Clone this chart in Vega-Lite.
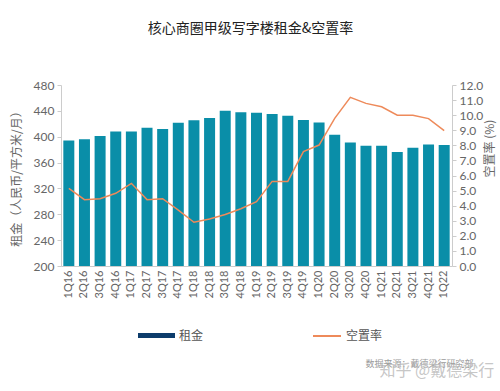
{
  "$schema": "https://vega.github.io/schema/vega-lite/v6.json",
  "width": 391,
  "height": 181,
  "autosize": "none",
  "padding": {"left": 61, "top": 85, "right": 48, "bottom": 125},
  "background": "white",
  "title": {"text": "核心商圈甲级写字楼租金&空置率", "fontSize": 14, "font": "Noto Sans CJK SC", "fontWeight": "normal", "color": "#222222", "offset": 43, "dx": -6},
  "config": {"view": {"stroke": null}, "font": "Noto Sans CJK SC"},
  "data": {"values": [
    {"q": "1Q16", "rent": 394, "vac": 5.15},
    {"q": "2Q16", "rent": 396, "vac": 4.4},
    {"q": "3Q16", "rent": 401, "vac": 4.46},
    {"q": "4Q16", "rent": 408, "vac": 4.82},
    {"q": "1Q17", "rent": 408, "vac": 5.48},
    {"q": "2Q17", "rent": 414, "vac": 4.4},
    {"q": "3Q17", "rent": 412, "vac": 4.46},
    {"q": "4Q17", "rent": 421.5, "vac": 3.71},
    {"q": "1Q18", "rent": 425.5, "vac": 2.9},
    {"q": "2Q18", "rent": 429, "vac": 3.11},
    {"q": "3Q18", "rent": 440, "vac": 3.42},
    {"q": "4Q18", "rent": 438, "vac": 3.8},
    {"q": "1Q19", "rent": 437, "vac": 4.27},
    {"q": "2Q19", "rent": 435, "vac": 5.61},
    {"q": "3Q19", "rent": 432.5, "vac": 5.61},
    {"q": "4Q19", "rent": 426, "vac": 7.58},
    {"q": "1Q20", "rent": 422, "vac": 8.02},
    {"q": "2Q20", "rent": 403, "vac": 9.79},
    {"q": "3Q20", "rent": 391, "vac": 11.18},
    {"q": "4Q20", "rent": 386, "vac": 10.78},
    {"q": "1Q21", "rent": 386, "vac": 10.56},
    {"q": "2Q21", "rent": 376.5, "vac": 10.0},
    {"q": "3Q21", "rent": 383, "vac": 10.0},
    {"q": "4Q21", "rent": 388, "vac": 9.77},
    {"q": "1Q22", "rent": 387, "vac": 8.97}
  ]},
  "layer": [
    {
      "mark": {"type": "bar", "width": 11, "clip": true, "color": "#0a8ea8"},
      "encoding": {
        "x": {"field": "q", "type": "ordinal", "sort": null,
          "scale": {"paddingInner": 0.3, "paddingOuter": 0.15},
          "axis": {"title": "数据来源：戴德梁行研究部", "titleX": 304, "titleY": 97, "titleAlign": "left", "titleBaseline": "middle", "titleFontSize": 9, "titleFontWeight": "normal", "titleColor": "#9a9a9a",
            "labelAngle": 270, "labelFont": "Lato", "labelFontSize": 11, "labelColor": "#666666", "labelPadding": 4, "ticks": false, "domainColor": "#cccccc", "labelOverlap": false}},
        "y": {"field": "rent", "type": "quantitative",
          "scale": {"domain": [200, 480], "zero": false, "nice": false},
          "axis": {"values": [200, 240, 280, 320, 360, 400, 440, 480], "grid": false, "labelFont": "Lato", "labelFontSize": 12, "labelColor": "#666666", "labelPadding": 3, "tickSize": 4, "tickColor": "#cccccc", "domainColor": "#cccccc",
            "title": "租金（人民币/平方米/月）", "titleFontSize": 12, "titleFontWeight": "normal", "titleColor": "#666666", "titlePadding": 10}},
        "y2": {"datum": 200}
      }
    },
    {
      "mark": {"type": "bar", "width": 11, "clip": true},
      "encoding": {
        "x": {"field": "q", "type": "ordinal", "sort": null, "axis": null},
        "y": {"field": "rent", "type": "quantitative", "scale": {"domain": [200, 480], "zero": false, "nice": false}, "axis": null},
        "y2": {"field": "rent"},
        "color": {"datum": "租金", "scale": {"range": ["#0d3c6b"]},
          "legend": {"orient": "none", "legendX": 77, "legendY": 232, "title": null, "symbolType": "M-1,-0.14H1V0.14H-1Z", "symbolSize": 1369, "symbolStrokeWidth": 0, "labelFontSize": 12, "labelColor": "#555555", "labelOffset": 4, "padding": 0}}
      }
    },
    {
      "mark": {"type": "line", "strokeWidth": 1.5},
      "encoding": {
        "x": {"field": "q", "type": "ordinal", "sort": null,
          "axis": {"orient": "bottom", "labels": false, "ticks": false, "domain": false, "title": "知乎 @戴德梁行", "titleX": 318, "titleY": 104, "titleAlign": "left", "titleBaseline": "middle", "titleFontSize": 16, "titleFontWeight": "normal", "titleColor": "#b8b8b8", "titleOpacity": 0.8}},
        "y": {"field": "vac", "type": "quantitative",
          "scale": {"domain": [0, 12], "nice": false},
          "axis": {"orient": "right", "values": [0, 1, 2, 3, 4, 5, 6, 7, 8, 9, 10, 11, 12], "format": ".1f", "grid": false, "labelFont": "Lato", "labelFontSize": 12, "labelColor": "#666666", "labelPadding": 3, "tickSize": 4, "tickColor": "#cccccc", "domainColor": "#cccccc",
            "title": "空置率 (%)", "titleAngle": 270, "titleY": 63, "titleFontSize": 12, "titleFontWeight": "normal", "titleColor": "#666666", "titlePadding": 14}},
        "stroke": {"datum": "空置率", "scale": {"range": ["#ee8a5a"]},
          "legend": {"orient": "none", "legendX": 251, "legendY": 236, "title": null, "symbolType": "stroke", "symbolSize": 784, "symbolStrokeWidth": 2, "labelFontSize": 12, "labelColor": "#555555", "labelOffset": 4, "padding": 0}}
      }
    }
  ],
  "resolve": {"scale": {"y": "independent"}, "axis": {"x": "independent", "y": "independent"}}
}
